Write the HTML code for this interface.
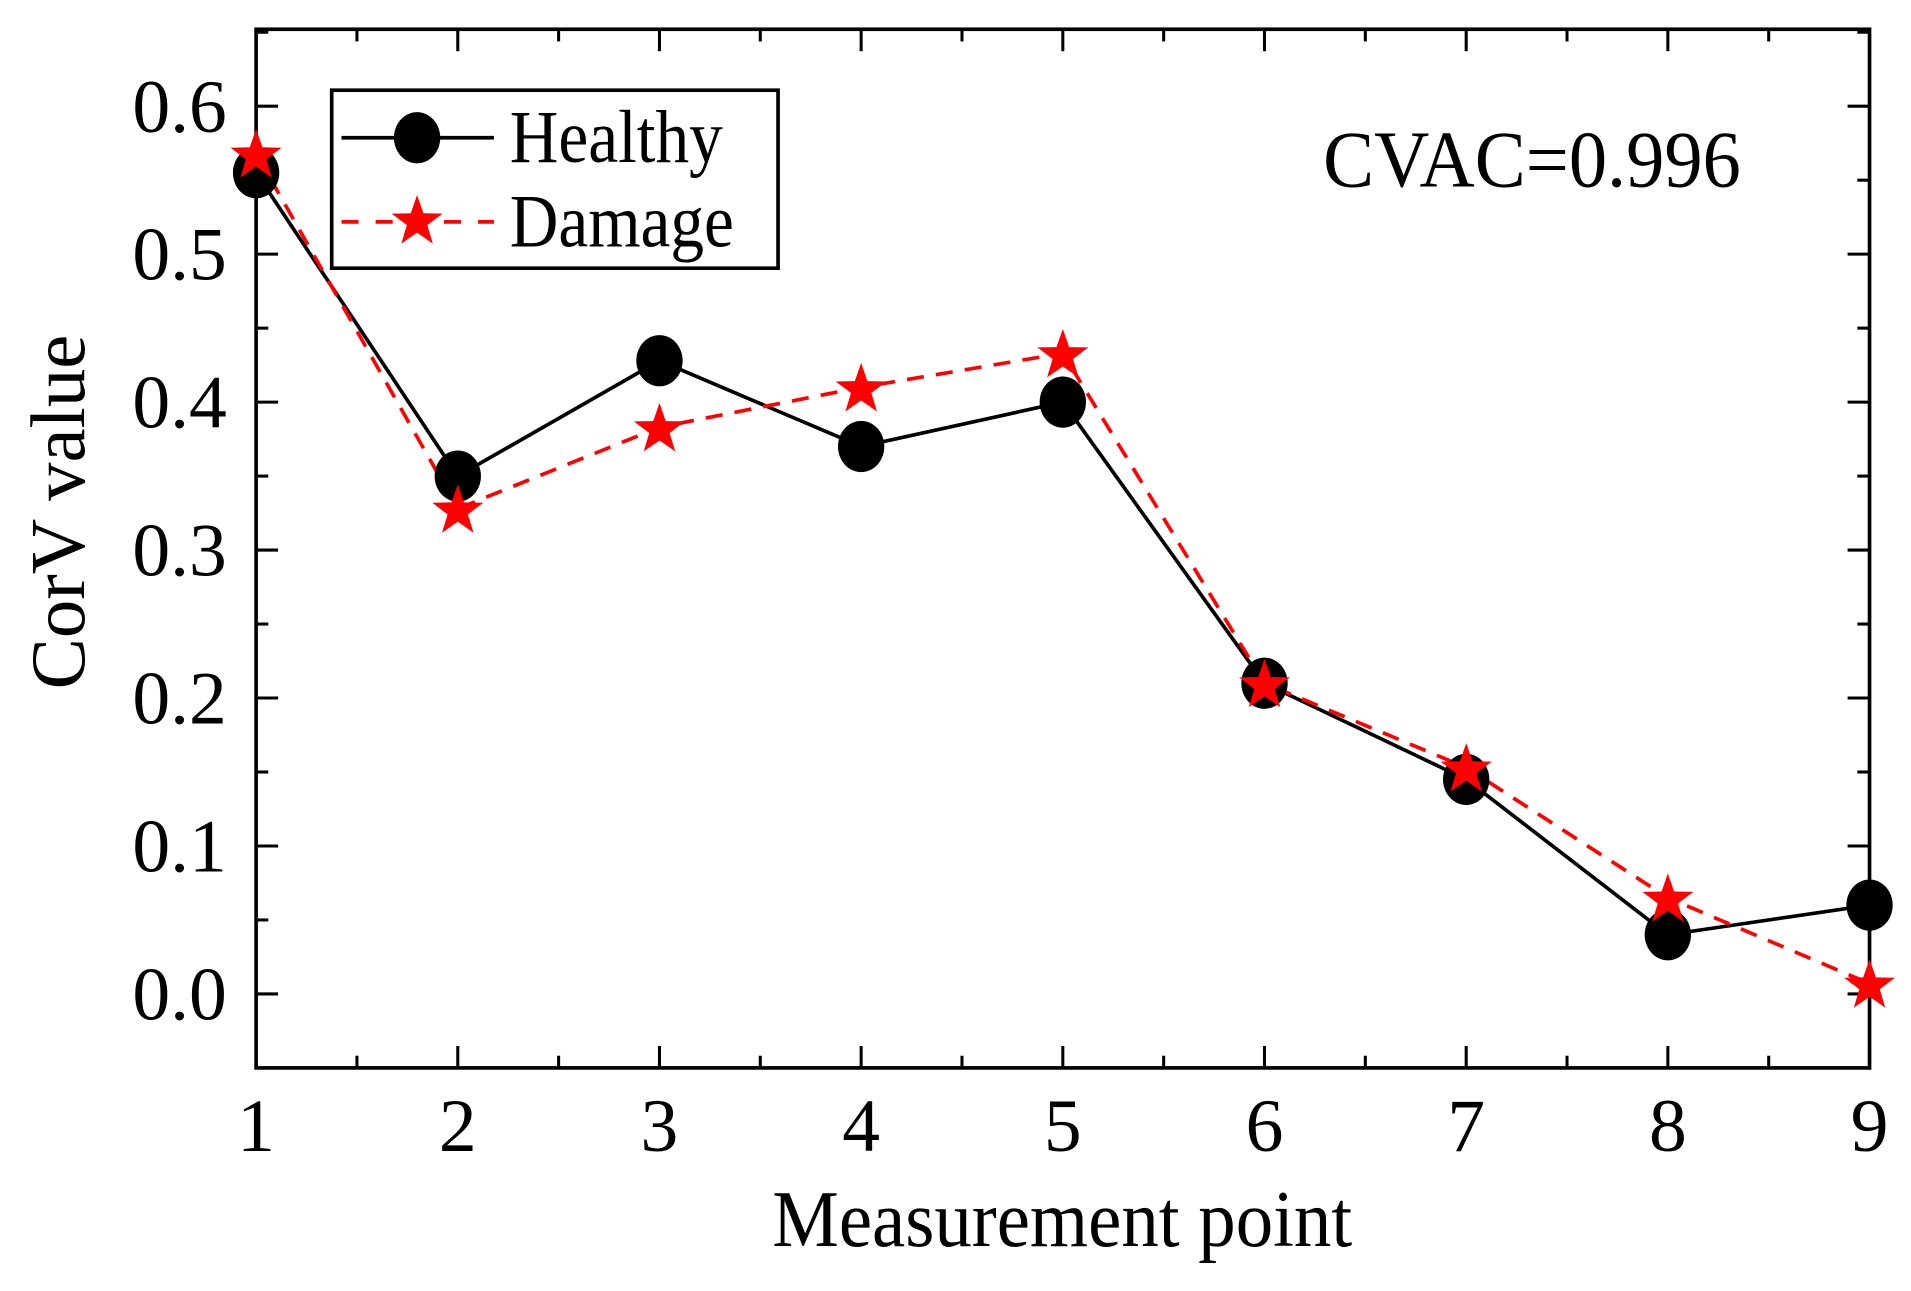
<!DOCTYPE html>
<html><head><meta charset="utf-8"><style>
html,body{margin:0;padding:0;background:#fff;}
svg{display:block;}
text{font-family:"Liberation Serif",serif;fill:#000;}
</style></head><body>
<svg id="chart" width="1911" height="1291" viewBox="0 0 1567 1059" preserveAspectRatio="none" xmlns="http://www.w3.org/2000/svg">
<g id="axes"></g>
<g id="series"></g>
<g>
<rect x="272" y="74" width="366" height="146" fill="#fff" stroke="#000" stroke-width="3"/>
<line x1="280" y1="113" x2="405" y2="113" stroke="#000" stroke-width="3"/>
<ellipse cx="342" cy="113" rx="19" ry="21" fill="#000"/>
<text x="418" y="133" font-size="62" transform="translate(418,0) scale(0.89,1) translate(-418,0)">Healthy</text>
<line x1="280" y1="182" x2="405" y2="182" stroke="#f00" stroke-width="3" stroke-dasharray="14,14"/>
<polygon id="legstar" fill="#f00"/>
<text x="418" y="202" font-size="62" transform="translate(418,0) scale(0.89,1) translate(-418,0)">Damage</text>
</g>
<text x="1085" y="153" font-size="66" transform="translate(1085,0) scale(0.95,1) translate(-1085,0)">CVAC=0.996</text>
<text x="871" y="1022" font-size="66" text-anchor="middle" transform="translate(871,0) scale(0.93,1) translate(-871,0)">Measurement point</text>
<text x="0" y="0" font-size="63" text-anchor="middle" transform="translate(69,420) rotate(-90)">CorV value</text>
</svg>
<script>
const categories=[1,2,3,4,5,6,7,8,9];
const healthy=[0.555,0.35,0.428,0.37,0.40,0.21,0.145,0.04,0.06];
const damage=[0.568,0.328,0.383,0.41,0.433,0.21,0.153,0.065,0.007];
const yTicks=[0.0,0.1,0.2,0.3,0.4,0.5,0.6];
const yTickLabels=["0.0","0.1","0.2","0.3","0.4","0.5","0.6"];
const xTickLabels=["1","2","3","4","5","6","7","8","9"];

const L=210,R=1533,T=24,B=876;
const xMin=1,xMax=9,yMin=-0.05,yMax=0.652;
function xs(v){return L+(v-xMin)/(xMax-xMin)*(R-L);}
function ys(v){return B-(v-yMin)/(yMax-yMin)*(B-T);}
const NS="http://www.w3.org/2000/svg";
function mk(tag,attrs,parent){const e=document.createElementNS(NS,tag);for(const k in attrs)e.setAttribute(k,attrs[k]);parent.appendChild(e);return e;}
function starPts(cx,cy,r){const p=[];for(let i=0;i<10;i++){const a=-Math.PI/2+i*Math.PI/5;const rr=i%2?r*0.4:r;p.push((cx+rr*Math.cos(a)).toFixed(1)+","+(cy+rr*Math.sin(a)).toFixed(1));}return p.join(" ");}
document.getElementById('legstar').setAttribute('points',starPts(342,182,22));

const ax=document.getElementById('axes');
const frame=mk('rect',{x:L,y:T,width:R-L,height:B-T,fill:'none',stroke:'#000','stroke-width':3},ax);


for(let i=0;i<categories.length;i++){
  const x=xs(categories[i]);
  mk('line',{x1:x,y1:B,x2:x,y2:B-18,stroke:'#000','stroke-width':2.5},ax);
  mk('line',{x1:x,y1:T,x2:x,y2:T+18,stroke:'#000','stroke-width':2.5},ax);
  if(i<categories.length-1){const xm=xs(categories[i]+0.5);
    mk('line',{x1:xm,y1:B,x2:xm,y2:B-10,stroke:'#000','stroke-width':2.5},ax);
    mk('line',{x1:xm,y1:T,x2:xm,y2:T+10,stroke:'#000','stroke-width':2.5},ax);}
  const t=mk('text',{x:x,y:944,'font-size':62,'text-anchor':'middle'},ax);
  t.textContent=xTickLabels[i];
  
  
}
for(let i=0;i<yTicks.length;i++){
  const y=ys(yTicks[i]);
  mk('line',{x1:L,y1:y,x2:L+18,y2:y,stroke:'#000','stroke-width':2.5},ax);
  mk('line',{x1:R,y1:y,x2:R-18,y2:y,stroke:'#000','stroke-width':2.5},ax);
  const ym=ys(yTicks[i]+0.05);
  mk('line',{x1:L,y1:ym,x2:L+10,y2:ym,stroke:'#000','stroke-width':2.5},ax);
  mk('line',{x1:R,y1:ym,x2:R-10,y2:ym,stroke:'#000','stroke-width':2.5},ax);
  const t=mk('text',{x:186,y:y+21,'font-size':62,'text-anchor':'end'},ax);
  t.textContent=yTickLabels[i];
  
  
}
const sg=document.getElementById('series');
const hp=categories.map((c,i)=>xs(c)+","+ys(healthy[i])).join(" ");
const hl=mk('polyline',{points:hp,fill:'none',stroke:'#000','stroke-width':3},sg);


const dp=categories.map((c,i)=>xs(c)+","+ys(damage[i])).join(" ");
const dl=mk('polyline',{points:dp,fill:'none',stroke:'#f00','stroke-width':3,'stroke-dasharray':'14,10'},sg);


categories.forEach((c,i)=>{
  const e=mk('ellipse',{cx:xs(c),cy:ys(healthy[i]),rx:19,ry:21,fill:'#000'},sg);
  
  
});
categories.forEach((c,i)=>{
  const s=mk('polygon',{points:starPts(xs(c),ys(damage[i])+2,22),fill:'#f00'},sg);
  
  
});
</script>
</body></html>
